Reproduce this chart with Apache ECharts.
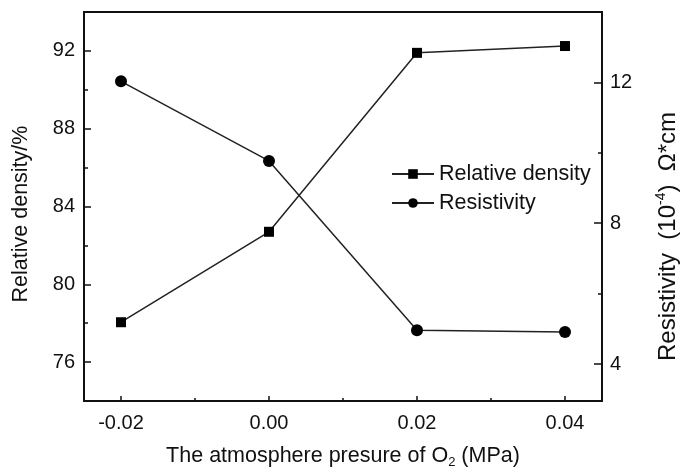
<!DOCTYPE html>
<html>
<head>
<meta charset="utf-8">
<title>Relative density and resistivity vs O2 pressure</title>
<script src="https://cdn.jsdelivr.net/npm/echarts@6/dist/echarts.min.js"></script>
<style>
  html, body { margin: 0; padding: 0; background: #fff; }
  #chart { width: 681px; height: 468px; }
</style>
</head>
<body>
<div id="chart"></div>
<script>
// Measured values
const pressure = [-0.02, 0.00, 0.02, 0.04];          // MPa
const relativeDensity = [78.05, 82.7, 91.9, 92.25];  // %
const resistivity = [12.03, 9.77, 4.96, 4.91];       // 10^-4 Ohm*cm

// Tick positions
const xMajorTicks = [-0.02, 0.00, 0.02, 0.04];
const xMinorTicks = [-0.01, 0.01, 0.03];
const densityMajorTicks = [76, 80, 84, 88, 92];
const densityMinorTicks = [78, 82, 86, 90];
const resistivityMajorTicks = [4, 8, 12];
const resistivityMinorTicks = [6, 10];

const INK = '#111';
const FONT = '"Liberation Sans", Arial, sans-serif';
const TICK_FONT = 20;
const NAME_FONT = 21.5;
const RIGHT_NAME_FONT = 24;

const chart = echarts.init(document.getElementById('chart'), null, { renderer: 'canvas' });

const baseAxis = {
  splitLine: { show: false },
  axisLine: { show: true, onZero: false, lineStyle: { color: INK, width: 2 } }
};

// Extra overlay axis that only carries the short minor ticks
const minorAxis = (extra) => Object.assign({
  type: 'value',
  splitLine: { show: false },
  axisLine: { show: false, onZero: false },
  axisLabel: { show: false }
}, extra);

const option = {
  backgroundColor: '#fff',
  animation: false,
  textStyle: { fontFamily: FONT, color: INK },
  grid: {
    left: 84, right: 79, top: 12, bottom: 67,
    outerBoundsMode: 'none',
    show: true, borderColor: INK, borderWidth: 2, backgroundColor: 'transparent'
  },
  legend: {
    orient: 'vertical',
    left: 386, top: 158,
    itemWidth: 42, itemHeight: 12, itemGap: 7,
    textStyle: { fontSize: NAME_FONT, color: INK, fontFamily: FONT },
    data: ['Relative density', 'Resistivity']
  },
  xAxis: [
    Object.assign({}, baseAxis, {
      type: 'value', position: 'bottom',
      min: -0.025, max: 0.045,
      axisTick: { show: true, inside: true, length: 5, customValues: xMajorTicks,
                  lineStyle: { color: INK, width: 1.5 } },
      axisLabel: { customValues: xMajorTicks, margin: 12, fontSize: TICK_FONT, color: INK, fontFamily: FONT,
                   formatter: v => v.toFixed(2) },
      name: 'The atmosphere presure of O{sub|2} (MPa)',
      nameLocation: 'middle', nameGap: 42,
      nameTextStyle: {
        fontSize: NAME_FONT, color: INK, fontFamily: FONT, lineHeight: 26,
        rich: { sub: { fontSize: 13, lineHeight: 12, verticalAlign: 'bottom', fontFamily: FONT, color: INK } }
      }
    }),
    minorAxis({
      position: 'bottom', min: -0.025, max: 0.045,
      axisTick: { show: true, inside: true, length: 3, customValues: xMinorTicks,
                  lineStyle: { color: INK, width: 1.5 } }
    })
  ],
  yAxis: [
    Object.assign({}, baseAxis, {
      type: 'value', position: 'left',
      min: 74, max: 94,
      axisTick: { show: true, inside: true, length: 7, customValues: densityMajorTicks,
                  lineStyle: { color: INK, width: 1.5 } },
      axisLabel: { customValues: densityMajorTicks, margin: 9, fontSize: TICK_FONT, color: INK, fontFamily: FONT },
      name: 'Relative density/%',
      nameLocation: 'middle', nameGap: 52, nameRotate: 90,
      nameTextStyle: { fontSize: NAME_FONT, color: INK, fontFamily: FONT, padding: [0, 15, 0, 0] }
    }),
    Object.assign({}, baseAxis, {
      type: 'value', position: 'right',
      min: 2.95, max: 14,
      axisTick: { show: true, inside: true, length: 8, customValues: resistivityMajorTicks,
                  lineStyle: { color: INK, width: 1.5 } },
      axisLabel: { customValues: resistivityMajorTicks, margin: 8, fontSize: TICK_FONT, color: INK, fontFamily: FONT },
      name: 'Resistivity  (10{sup|-4})  Ω*cm',
      nameLocation: 'middle', nameGap: 52, nameRotate: 90,
      nameTextStyle: {
        fontSize: RIGHT_NAME_FONT, color: INK, fontFamily: FONT, lineHeight: 28, padding: [0, 60, 0, 0],
        rich: { sup: { fontSize: 14, lineHeight: 13, verticalAlign: 'top', fontFamily: FONT, color: INK } }
      }
    }),
    minorAxis({
      position: 'left', min: 74, max: 94,
      axisTick: { show: true, inside: true, length: 4, customValues: densityMinorTicks,
                  lineStyle: { color: INK, width: 1.5 } }
    }),
    minorAxis({
      position: 'right', min: 2.95, max: 14,
      axisTick: { show: true, inside: true, length: 4, customValues: resistivityMinorTicks,
                  lineStyle: { color: INK, width: 1.5 } }
    })
  ],
  series: [
    {
      name: 'Relative density',
      type: 'line',
      xAxisIndex: 0, yAxisIndex: 0,
      data: pressure.map((p, i) => [p, relativeDensity[i]]),
      symbol: 'rect', symbolSize: 10,
      lineStyle: { color: '#222', width: 1.5 },
      itemStyle: { color: '#000' }
    },
    {
      name: 'Resistivity',
      type: 'line',
      xAxisIndex: 0, yAxisIndex: 1,
      data: pressure.map((p, i) => [p, resistivity[i]]),
      symbol: 'circle', symbolSize: 12,
      lineStyle: { color: '#222', width: 1.5 },
      itemStyle: { color: '#000' }
    }
  ]
};

chart.setOption(option);
</script>
</body>
</html>
